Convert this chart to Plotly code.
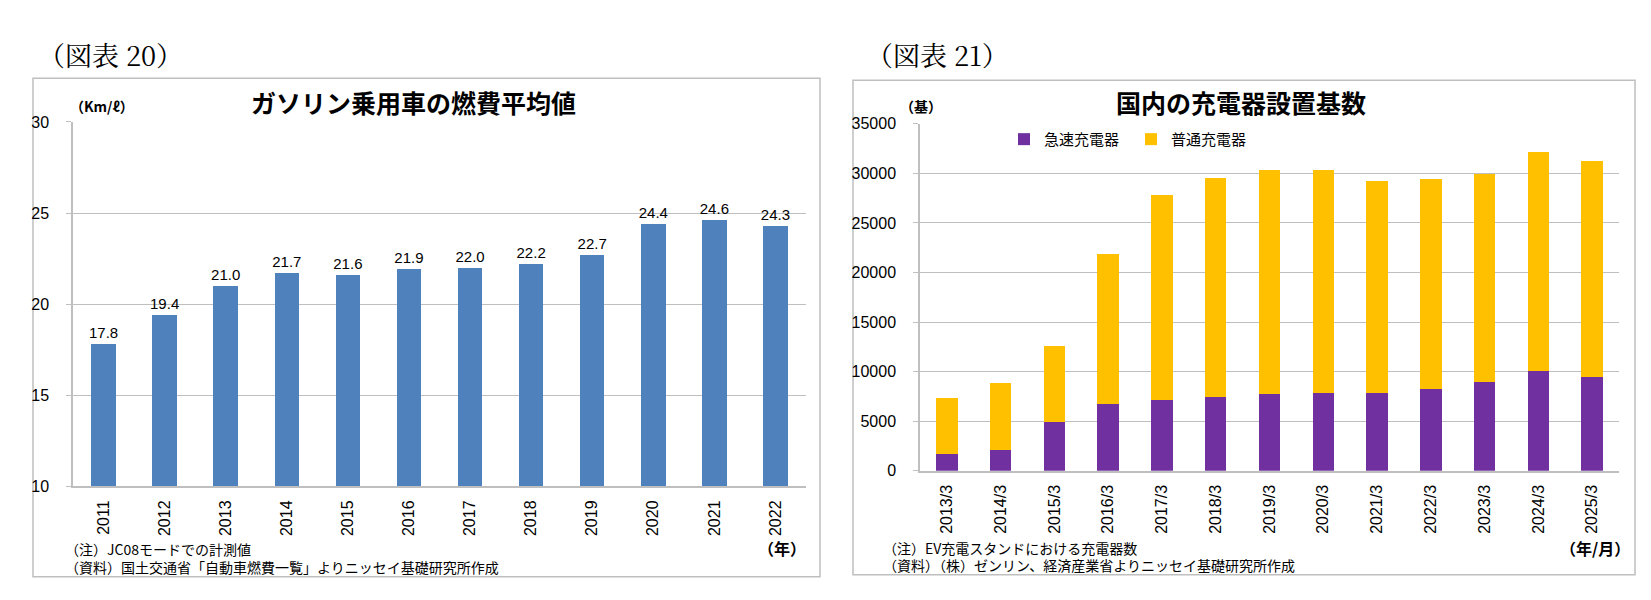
import plotly.graph_objects as go

# ---- Data ----
years = ["2011", "2012", "2013", "2014", "2015", "2016", "2017", "2018", "2019", "2020", "2021", "2022"]
fuel_economy = [17.8, 19.4, 21.0, 21.7, 21.6, 21.9, 22.0, 22.2, 22.7, 24.4, 24.6, 24.3]

periods = ["2013/3", "2014/3", "2015/3", "2016/3", "2017/3", "2018/3", "2019/3",
           "2020/3", "2021/3", "2022/3", "2023/3", "2024/3", "2025/3"]
fast_chargers = [1700, 2100, 4900, 6700, 7100, 7400, 7700, 7800, 7800, 8200, 9000, 10100, 9500]
total_chargers = [7350, 8900, 12600, 21900, 27800, 29500, 30300, 30300, 29200, 29400, 29900, 32200, 31300]
normal_chargers = [t - f for t, f in zip(total_chargers, fast_chargers)]

W, H = 1651, 600
def px(x):
    return x / W
def py(y):
    return 1 - y / H

JP = "Noto Sans CJK JP"
NUM = "Liberation Sans"

fig = go.Figure()

fig.add_trace(go.Bar(
    x=years, y=fuel_economy, marker_color="#4F81BD", marker_line_width=0,
    text=[f"{v:.1f}" for v in fuel_economy], textposition="outside",
    constraintext="none",
    textfont=dict(family=NUM, size=15, color="#000000"), cliponaxis=False,
    showlegend=False, xaxis="x", yaxis="y"))

fig.add_trace(go.Bar(
    x=periods, y=fast_chargers, name="急速充電器", marker_color="#7030A0",
    marker_line_width=0, xaxis="x2", yaxis="y2"))
fig.add_trace(go.Bar(
    x=periods, y=normal_chargers, name="普通充電器", marker_color="#FFC000",
    marker_line_width=0, xaxis="x2", yaxis="y2"))

grid = "#BFBFBF"
axis_common = dict(showline=True, linecolor=grid, linewidth=1.5,
                   tickfont=dict(family=NUM, size=16, color="#000000"))

fig.update_layout(
    width=W, height=H, margin=dict(l=0, r=0, t=0, b=0),
    paper_bgcolor="white", plot_bgcolor="white",
    barmode="stack", bargap=0.6,
    xaxis=dict(domain=[px(65), px(798)], anchor="y", tickangle=-90, ticks="",
               ticklabelstandoff=6, **axis_common),
    yaxis=dict(domain=[py(484), py(109)], anchor="x", range=[10, 30], dtick=5,
               showgrid=True, gridcolor=grid, gridwidth=1.2, ticks="outside",
               ticklen=5, tickcolor=grid, ticklabelstandoff=14, zeroline=False,
               **axis_common),
    xaxis2=dict(domain=[px(912), px(1611)], anchor="y2", tickangle=-90, ticks="",
                ticklabelstandoff=6, **axis_common),
    yaxis2=dict(domain=[py(468), py(111)], anchor="x2", range=[0, 35000], dtick=5000,
                tickformat="d",
                showgrid=True, gridcolor=grid, gridwidth=1.2, ticks="outside",
                ticklen=5, tickcolor=grid, ticklabelstandoff=14, zeroline=False,
                **axis_common),
    legend=dict(orientation="h", x=px(996), y=py(127), xanchor="left", yanchor="middle",
                font=dict(family=JP, size=15, color="#000000"), bgcolor="rgba(0,0,0,0)",
                traceorder="normal", itemwidth=30, entrywidth=82, entrywidthmode="pixels"),
    font=dict(family=JP, color="#000000"),
)

# Panel borders
fig.add_shape(type="rect", xref="paper", yref="paper",
              x0=px(25), x1=px(812), y0=py(577), y1=py(64),
              line=dict(color="#BFBFBF", width=1.5), layer="below")
fig.add_shape(type="rect", xref="paper", yref="paper",
              x0=px(845), x1=px(1627), y0=py(575), y1=py(66),
              line=dict(color="#BFBFBF", width=1.5), layer="below")

def ann(text, x, y, size, xanchor="left", bold=False, family=JP):
    fig.add_annotation(text=f"<b>{text}</b>" if bold else text,
                       x=x, y=y, xref="paper", yref="paper",
                       xanchor=xanchor, yanchor="middle", showarrow=False,
                       font=dict(family=family, size=size, color="#000000"))

ann("（図表 20）", px(28), py(40), 27, family="Noto Serif CJK JP, " + JP)
ann("（図表 21）", px(856), py(40), 27, family="Noto Serif CJK JP, " + JP)

ann("ガソリン乗用車の燃費平均値", px(405), py(88), 25, xanchor="center", bold=True)
ann("国内の充電器設置基数", px(1233), py(88), 25, xanchor="center", bold=True)

ann("（Km/ℓ）", px(60), py(93), 14, bold=True)
ann("（基）", px(890), py(93), 14, bold=True)

ann("（注）JC08モードでの計測値", px(55), py(549), 14)
ann("（資料）国土交通省「自動車燃費一覧」よりニッセイ基礎研究所作成", px(55), py(567), 14)
ann("（年）", px(800), py(548), 16, xanchor="right", bold=True)

ann("（注）EV充電スタンドにおける充電器数", px(873), py(547), 14)
ann("（資料）（株）ゼンリン、経済産業省よりニッセイ基礎研究所作成", px(873), py(565), 14)
ann("（年/月）", px(1624), py(547), 16, xanchor="right", bold=True)

fig.write_html("out.html")
